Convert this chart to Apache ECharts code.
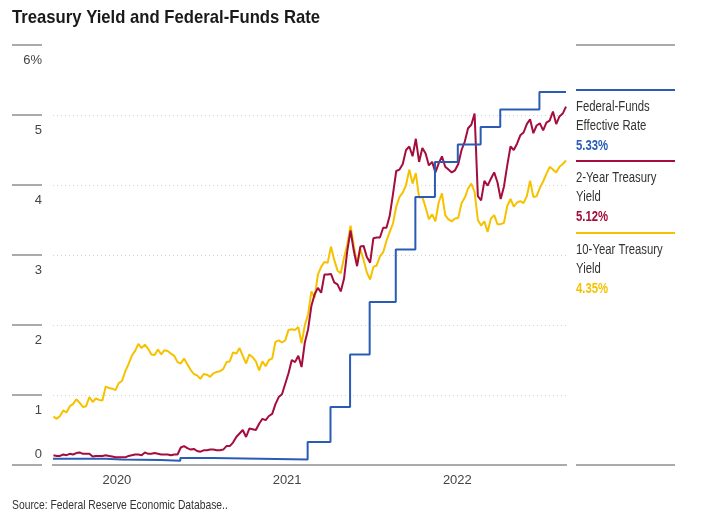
<!DOCTYPE html>
<html><head><meta charset="utf-8">
<script src="https://cdn.jsdelivr.net/npm/echarts@6/dist/echarts.min.js"></script>
<style>html,body{margin:0;padding:0;background:#fff}#c{width:726px;height:529px}</style>
</head><body><div id="c"></div>
<script>
// ---- data ----
const weekStart = '2020-09-18'; // weekly (Friday) observations
const tenYear = [
0.69,0.66,0.70,0.78,0.75,0.84,0.87,0.94,0.89,0.83,0.84,0.97,0.90,0.95,0.93,0.92,
1.12,1.10,1.09,1.07,1.17,1.20,1.34,1.44,1.56,1.63,1.73,1.67,1.72,1.66,1.58,1.57,1.65,1.58,1.64,1.63,1.59,1.56,1.47,1.45,1.52,1.44,1.36,1.30,1.28,1.23,1.30,1.29,1.26,1.31,1.33,1.34,1.37,1.47,1.48,1.61,1.59,1.67,1.56,1.45,1.58,1.54,1.48,1.35,1.48,1.41,1.50,1.52,
1.76,1.78,1.75,1.78,1.93,1.94,1.93,1.97,1.74,2.00,2.15,2.48,2.39,2.72,2.83,2.90,2.89,3.12,2.93,2.78,2.74,2.96,3.15,3.42,3.13,2.88,3.08,2.93,2.75,2.65,2.83,2.85,2.98,3.04,3.20,3.33,3.45,3.69,3.83,3.89,4.00,4.22,4.02,4.17,3.82,3.83,3.68,3.51,3.58,3.48,3.75,3.88,
3.57,3.51,3.48,3.52,3.53,3.74,3.82,3.95,4.02,3.90,3.50,3.42,3.48,3.33,3.52,3.57,3.44,3.44,3.46,3.70,3.80,3.69,3.75,3.77,3.74,3.84,4.06,3.83,3.84,3.96,4.05,4.16,4.26,4.22,4.18,4.26,4.30,4.35
];
const twoYear = [
0.14,0.13,0.13,0.15,0.14,0.16,0.15,0.17,0.18,0.16,0.16,0.16,0.12,0.13,0.13,0.13,
0.14,0.13,0.12,0.11,0.11,0.11,0.11,0.13,0.14,0.15,0.15,0.14,0.18,0.16,0.16,0.17,0.16,0.15,0.15,0.15,0.14,0.15,0.15,0.25,0.27,0.24,0.22,0.23,0.20,0.19,0.21,0.21,0.22,0.22,0.21,0.21,0.22,0.27,0.27,0.32,0.40,0.45,0.50,0.40,0.52,0.51,0.50,0.59,0.66,0.64,0.70,0.73,
0.87,0.97,1.01,1.16,1.31,1.50,1.47,1.56,1.40,1.75,1.94,2.27,2.44,2.53,2.46,2.72,2.72,2.73,2.61,2.58,2.48,2.66,3.06,3.35,3.06,2.84,3.12,3.13,2.97,2.89,3.24,3.25,3.25,3.39,3.39,3.56,3.87,4.20,4.22,4.30,4.50,4.55,4.41,4.66,4.33,4.53,4.45,4.28,4.33,4.18,4.31,4.41,
4.26,4.22,4.18,4.21,4.30,4.50,4.62,4.81,4.86,5.02,3.84,3.78,4.06,3.99,4.09,4.18,4.04,3.80,3.98,4.28,4.55,4.50,4.59,4.71,4.75,4.87,4.94,4.74,4.85,4.88,4.78,4.89,4.92,5.05,4.87,4.98,5.02,5.12
];
const ffDates = ['2020-09-17','2021-01-07','2021-02-11','2021-05-06','2021-06-17','2021-08-26','2022-03-17','2022-05-05','2022-06-16','2022-07-28','2022-09-22','2022-11-03','2022-12-15','2023-02-02','2023-03-23','2023-05-04','2023-07-27','2023-09-22'];
const ffValues = [0.09,0.08,0.07,0.06,0.10,0.08,0.33,0.83,1.58,2.33,3.08,3.83,4.33,4.58,4.83,5.08,5.33,5.33];
const xTickDates = ['2021-02-01','2022-02-01','2023-02-01'];
const xTickLabels = ['2020','2021','2022'];
const seriesNames = [['Federal-Funds','Effective Rate'],['2-Year Treasury','Yield'],['10-Year Treasury','Yield']];
const titleText = 'Treasury Yield and Federal-Funds Rate';
const sourceText = 'Source: Federal Reserve Economic Database..';

// ---- build ----
const DAY = 86400000;
const t0 = Date.parse(weekStart);
const weeks = tenYear.map((_, i) => t0 + i * 7 * DAY);
const ffTimes = ffDates.map(d => Date.parse(d));
const xTickTimes = xTickDates.map(d => Date.parse(d));
const xMin = ffTimes[0], xMax = ffTimes[ffTimes.length - 1];

const FONT = "'Liberation Sans',Arial,sans-serif";
const BLUE = '#2a5cb6', RED = '#a50d3d', YEL = '#f6c200';
const GRAY = '#aaaaaa';

const lastVals = [ffValues[ffValues.length-1], twoYear[twoYear.length-1], tenYear[tenYear.length-1]];
const colors = [BLUE, RED, YEL];
const legendTop = [90, 161, 233];
const graphics = [];
function txt(s, x, y, font, fill, sx) {
  return {type:'text', x:x, y:y, scaleX:sx, style:{text:s, fill:fill, font:font, verticalAlign:'middle', textVerticalAlign:'middle'}};
}
legendTop.forEach((ly, i) => {
  graphics.push({type:'line', shape:{x1:576, y1:ly, x2:675, y2:ly}, style:{stroke:colors[i], lineWidth:2}});
  seriesNames[i].forEach((s, j) => graphics.push(txt(s, 576, ly + 17 + j*19.5, '14px ' + FONT, '#333', 0.81)));
  graphics.push(txt(lastVals[i].toFixed(2) + '%', 576, ly + 17 + 2*19.5, 'bold 14px ' + FONT, colors[i], 0.81));
});
graphics.push({type:'line', shape:{x1:576, y1:45, x2:675, y2:45}, style:{stroke:GRAY, lineWidth:2}});
graphics.push({type:'line', shape:{x1:576, y1:465, x2:675, y2:465}, style:{stroke:GRAY, lineWidth:2}});
graphics.push(txt(sourceText, 12, 505, '13.5px ' + FONT, '#333', 0.765));
graphics.push(txt(titleText, 12, 18, 'bold 19px ' + FONT, '#1a1a1a', 0.878));

const chart = echarts.init(document.getElementById('c'));
chart.setOption({
  animation: false,
  backgroundColor: '#fff',
  grid: {left:53, right:160, top:45, bottom:64},
  xAxis: [
    {type:'value', min:xMin, max:xMax,
      axisLine:{show:true, lineStyle:{color:GRAY, width:2}},
      axisTick:{show:false}, splitLine:{show:false},
      axisLabel:{customValues:xTickTimes, margin:9, fontFamily:FONT, fontSize:13, color:'#444',
        formatter: v => { let best=-1, bd=Infinity; xTickTimes.forEach((t,i)=>{const d=Math.abs(t-v); if(d<bd){bd=d;best=i;}}); return bd < 5*DAY ? xTickLabels[best] : ''; }}},
    {type:'value', position:'top', min:xMin, max:xMax,
      axisLine:{show:true, lineStyle:{color:GRAY, width:2}},
      axisTick:{show:false}, axisLabel:{show:false}, splitLine:{show:false}}
  ],
  yAxis: [
    {type:'value', min:0, max:6, interval:1, position:'left',
      axisLine:{show:false}, axisTick:{show:false},
      splitLine:{show:true, showMinLine:false, showMaxLine:false, lineStyle:{color:'#d2d2d2', type:[1,3], width:1}},
      axisLabel:{margin:11, fontFamily:FONT, fontSize:13, color:'#444',
        formatter: v => v === 0 ? '{z|0}' : '{a|' + (v === 6 ? '6%' : String(v)) + '}',
        rich:{a:{fontFamily:FONT, fontSize:13, color:'#444', padding:[30,0,0,0]},
              z:{fontFamily:FONT, fontSize:13, color:'#444', padding:[0,0,22,0]}}}},
    {type:'value', min:0, max:6, interval:1, position:'left', offset:11,
      axisLine:{show:false}, axisLabel:{show:false}, splitLine:{show:false},
      axisTick:{show:true, length:30, lineStyle:{color:GRAY, width:2}}}
  ],
  series: [
    {name:'10-Year Treasury Yield', type:'line', data:weeks.map((t,i)=>[t, tenYear[i]]), showSymbol:false,
      lineStyle:{width:2, color:YEL}, itemStyle:{color:YEL}, z:2},
    {name:'2-Year Treasury Yield', type:'line', data:weeks.map((t,i)=>[t, twoYear[i]]), showSymbol:false,
      lineStyle:{width:2, color:RED}, itemStyle:{color:RED}, z:3},
    {name:'Federal-Funds Effective Rate', type:'line', step:'end', data:ffTimes.map((t,i)=>[t, ffValues[i]]), showSymbol:false,
      lineStyle:{width:2, color:BLUE}, itemStyle:{color:BLUE}, z:4}
  ],
  graphic: graphics
});
</script></body></html>
